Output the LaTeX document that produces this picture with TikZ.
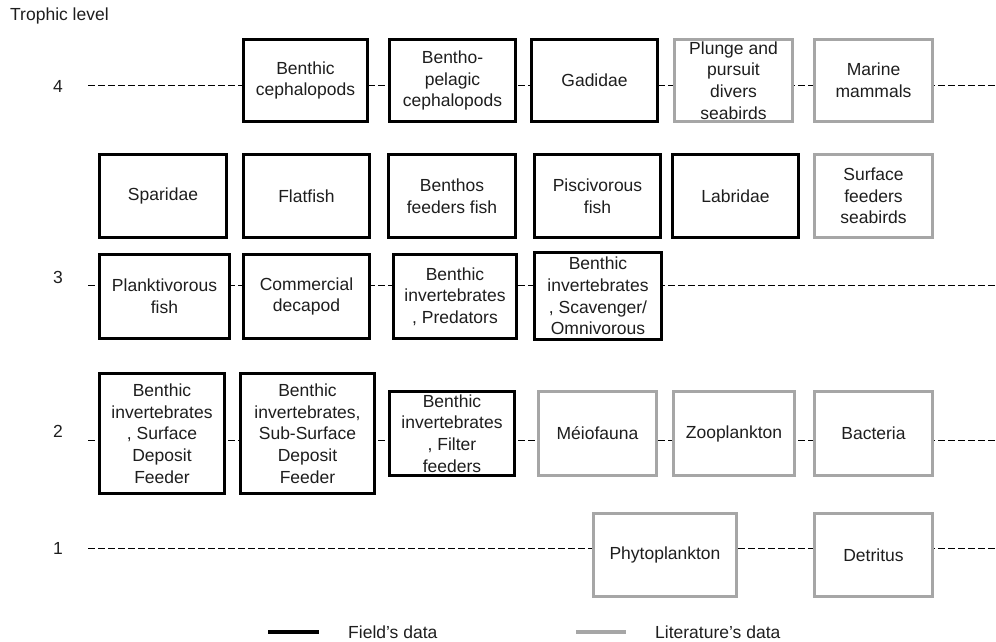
\documentclass[tikz,border=0pt]{standalone}
\usepackage{fontspec}
\setmainfont{Liberation Sans}
\definecolor{litgray}{RGB}{166,166,166}
\definecolor{txt}{RGB}{30,30,30}
\begin{document}
\begin{tikzpicture}[x=1pt,y=-1pt,
  lbl/.style={font=\fontsize{17.5}{21.7}\selectfont, text=txt, inner sep=0pt},
  boxbase/.style={lbl, fill=white, align=center, minimum width=#1},
  field/.style={boxbase=#1, draw=black, line width=3pt},
  lit/.style={boxbase=#1, draw=litgray, line width=2.6pt},
  guide/.style={draw=black, line width=0.9pt, dash pattern=on 7pt off 3pt},
]
\useasboundingbox (0,0) rectangle (996,642);

% trophic level guides
\coordinate (l4a) at (88,85);  \coordinate (l4b) at (996,85);
\coordinate (l3a) at (88,285); \coordinate (l3b) at (996,285);
\coordinate (l2a) at (88,440); \coordinate (l2b) at (996,440);
\coordinate (l1a) at (88,548); \coordinate (l1b) at (996,548);
\draw[guide] (l4a) -- (l4b);
\draw[guide] (l3a) -- (l3b);
\draw[guide] (l2a) -- (l2b);
\draw[guide] (l1a) -- (l1b);

\node[lbl, anchor=west] (title) at (10,16) {Trophic level};
\node[lbl] (n4) at (58,86) {4};
\node[lbl] (n3) at (58,277) {3};
\node[lbl] (n2) at (58,431) {2};
\node[lbl] (n1) at (58,548) {1};

% level 4
\node[field=124pt, minimum height=82pt] (bc) at (305.5,80.5) {Benthic\\cephalopods};
\node[field=126pt, minimum height=82pt] (bpc) at (452.5,80.5) {Bentho-\\pelagic\\cephalopods};
\node[field=126pt, minimum height=82pt] (gad) at (594.5,80.5) {Gadidae};
\node[lit=118pt, minimum height=82pt] (plu) at (733.5,80.5) {Plunge and\\pursuit\\divers\\seabirds};
\node[lit=118pt, minimum height=82pt] (mm) at (873.5,80.5) {Marine\\mammals};

% upper level 3 row
\node[field=127pt, minimum height=83pt] (spa) at (163,196) {Sparidae};
\node[field=126pt, minimum height=83pt] (fla) at (306.5,196) {Flatfish};
\node[field=127pt, minimum height=83pt] (bff) at (452,196) {Benthos\\feeders fish};
\node[field=126pt, minimum height=83pt] (pis) at (597.5,196) {Piscivorous\\fish};
\node[field=126pt, minimum height=83pt] (lab) at (735.5,196) {Labridae};
\node[lit=118pt, minimum height=83pt] (sfs) at (873.5,196) {Surface\\feeders\\seabirds};

% level 3 row
\node[field=130pt, minimum height=84pt] (pla) at (164.5,296.5) {Planktivorous\\fish};
\node[field=126pt, minimum height=84pt] (cde) at (306.5,296.5) {Commercial\\decapod};
\node[field=123pt, minimum height=84pt] (bip) at (455,296.5) {Benthic\\invertebrates\\, Predators};
\node[field=127pt, minimum height=87pt] (bis) at (598,296) {Benthic\\invertebrates\\, Scavenger/\\Omnivorous};

% level 2 row
\node[field=125pt, minimum height=120pt] (bsd) at (162,433.5) {Benthic\\invertebrates\\, Surface\\Deposit\\Feeder};
\node[field=134pt, minimum height=120pt] (bss) at (307.5,433.5) {Benthic\\invertebrates,\\Sub-Surface\\Deposit\\Feeder};
\node[field=125pt, minimum height=84pt] (bfi) at (452,433.5) {Benthic\\invertebrates\\, Filter\\feeders};
\node[lit=118pt, minimum height=84pt] (mei) at (597.5,433.5) {Méiofauna};
\node[lit=121pt, minimum height=84pt] (zoo) at (734,433.5) {Zooplankton};
\node[lit=118pt, minimum height=84pt] (bac) at (873.5,433.5) {Bacteria};

% level 1 row
\node[lit=143pt, minimum height=83pt] (phy) at (665,555) {Phytoplankton};
\node[lit=118pt, minimum height=83pt] (det) at (873.5,555) {Detritus};

% legend
\coordinate (fa) at (268,632); \coordinate (fb) at (319,632);
\coordinate (la) at (576,632); \coordinate (lb) at (626,632);
\draw[black, line width=4.5pt] (fa) -- (fb);
\draw[litgray, line width=4.5pt] (la) -- (lb);
\node[lbl, anchor=west] (ft) at (348,632) {Field’s data};
\node[lbl, anchor=west] (lt) at (655,632) {Literature’s data};
\end{tikzpicture}
\end{document}
